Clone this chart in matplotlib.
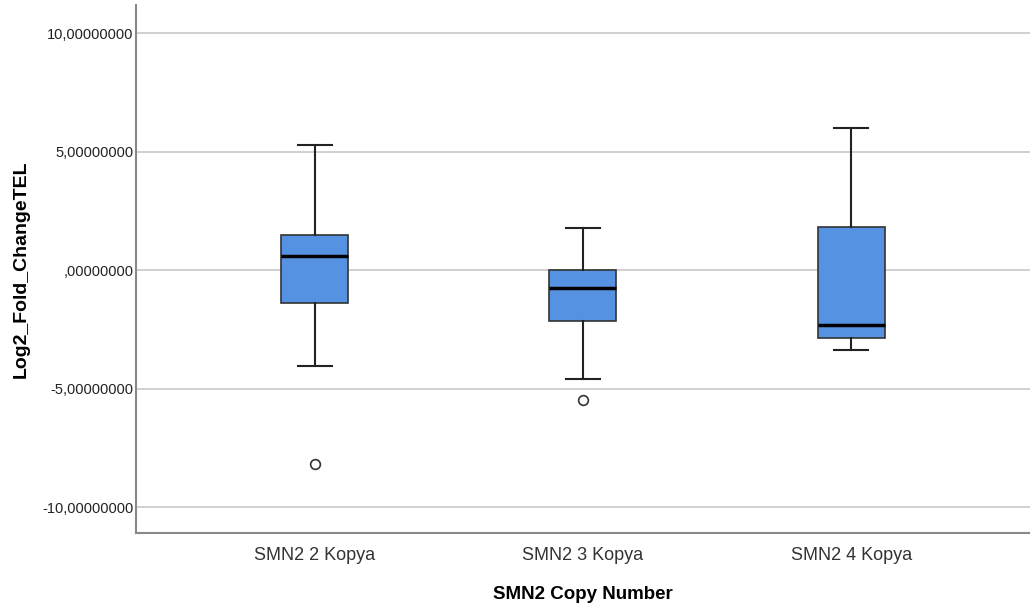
import matplotlib.pyplot as plt

groups = ['SMN2 2 Kopya', 'SMN2 3 Kopya', 'SMN2 4 Kopya']
whisker_low = [-4.05, -4.60, -3.38]
q1 = [-1.39, -2.15, -2.87]
medians = [0.59, -0.76, -2.32]
q3 = [1.48, 0.0, 1.81]
whisker_high = [5.30, 1.77, 5.99]
outliers = [[-8.19], [-5.49], []]

yticks = [10, 5, 0, -5, -10]
ytick_labels = ['10,00000000', '5,00000000', ',00000000', '-5,00000000', '-10,00000000']

plt.rcParams['font.family'] = ['Liberation Sans', 'DejaVu Sans']

stats = []
for i, g in enumerate(groups):
    stats.append({'label': g, 'whislo': whisker_low[i], 'q1': q1[i], 'med': medians[i],
                  'q3': q3[i], 'whishi': whisker_high[i], 'fliers': outliers[i]})

fig = plt.figure(figsize=(10.3, 6.1), dpi=100)
ax = fig.add_axes([0.132, 0.126, 0.868, 0.866])

ax.bxp(stats, positions=[1, 2, 3], widths=0.25, patch_artist=True, showfliers=True,
       boxprops=dict(facecolor='#5593E2', edgecolor='#333333', linewidth=1.2),
       medianprops=dict(color='black', linewidth=2.5),
       whiskerprops=dict(color='#222222', linewidth=1.5),
       capprops=dict(color='#222222', linewidth=1.5),
       capwidths=0.125,
       flierprops=dict(marker='o', markerfacecolor='white', markeredgecolor='#333333',
                       markersize=7, markeredgewidth=1.2))

ax.set_xlim(0.333, 3.667)
ax.set_ylim(-11.1, 11.2)
ax.set_yticks(yticks)
ax.set_yticklabels(ytick_labels, fontsize=10.5, color='#222222')
ax.set_xticklabels(groups, fontsize=13, color='#333333')
ax.tick_params(axis='both', length=0)
ax.tick_params(axis='y', pad=2)
ax.tick_params(axis='x', pad=10)
ax.grid(axis='y', color='#C8C8C8', linewidth=1.2)
ax.set_axisbelow(True)

for s in ['top', 'right']:
    ax.spines[s].set_visible(False)
for s in ['left', 'bottom']:
    ax.spines[s].set_color('#888888')
    ax.spines[s].set_linewidth(1.5)

ax.set_xlabel('SMN2 Copy Number', fontsize=13.5, fontweight='bold', labelpad=16)
ax.set_ylabel('Log2_Fold_ChangeTEL', fontsize=14, fontweight='bold', labelpad=9)

fig.savefig('out.png', dpi=100)
